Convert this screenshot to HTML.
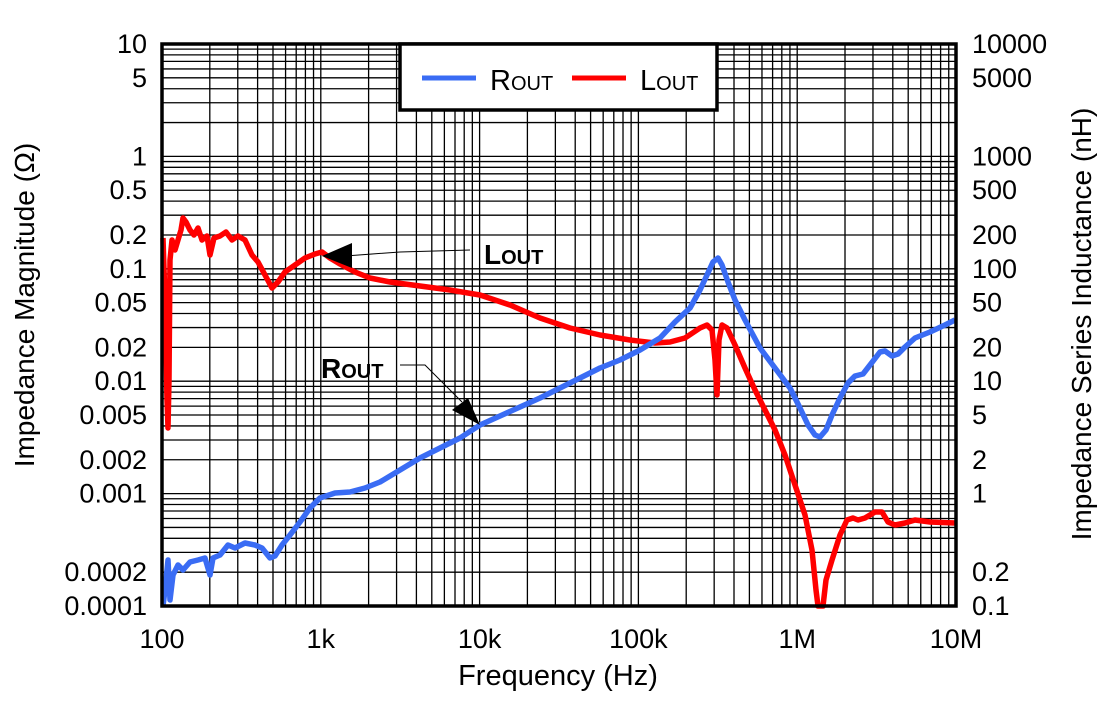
<!DOCTYPE html>
<html><head><meta charset="utf-8"><style>
body{margin:0;background:#fff;}
svg text{font-family:"Liberation Sans",sans-serif;}
</style></head><body>
<svg id="s" width="1108" height="701" xmlns="http://www.w3.org/2000/svg">
<g id="grid" stroke="#000" stroke-width="1.3"></g>
<polyline id="red" fill="none" stroke="#ff0000" stroke-width="5.5" stroke-linejoin="round" points="163,238 165,300 167,400 168,428 169,380 170,260 172,240 175,250 178,240 181,230 183,218 186,222 190,230 194,235 198,228 202,240 207,236 210,255 214,238 220,236 226,232 232,240 238,236 245,240 252,255 258,262 265,275 272,288 278,282 285,272 295,265 305,258 315,254 322,252 330,258 340,264 355,272 370,278 390,282 420,286 450,290 480,295 510,305 540,318 570,328 600,335 630,340 655,343 670,342 685,338 700,328 707,325 712,330 715,360 717,395 719,340 722,325 727,328 735,345 745,368 755,390 765,410 775,430 785,455 795,485 805,515 812,550 816,590 818,606 823,606 826,580 832,560 840,535 847,520 853,518 858,520 865,518 875,512 882,512 888,522 895,525 905,523 915,520 930,522 955,523"/>
<polyline id="blue" fill="none" stroke="#3a6cf4" stroke-width="5.5" stroke-linejoin="round" points="163,606 165,590 168,560 170,600 173,575 178,565 183,570 190,562 198,560 205,558 210,575 213,558 220,555 228,545 235,548 245,543 255,545 262,548 270,558 275,556 282,545 290,535 300,522 310,508 320,498 335,493 350,492 365,488 380,482 400,470 420,458 440,448 460,438 480,425 500,416 520,407 540,398 560,388 580,378 600,368 620,360 640,350 660,338 675,322 690,308 700,290 707,275 713,262 718,258 722,265 728,282 735,300 745,320 760,348 775,368 790,388 800,408 808,425 815,435 820,437 826,430 832,415 840,398 848,383 855,376 863,374 870,365 880,352 885,351 892,356 898,354 905,347 915,338 930,332 945,325 955,320"/>
<rect x="162" y="44" width="794" height="562" fill="none" stroke="#000" stroke-width="3.5"/>
<rect x="400" y="44" width="317" height="66" fill="#fff" stroke="#000" stroke-width="3.5"/>
<line x1="422" y1="78" x2="476" y2="78" stroke="#3a6cf4" stroke-width="5"/>
<text x="490" y="90" font-size="29">R<tspan font-size="20">OUT</tspan></text>
<line x1="572" y1="78" x2="626" y2="78" stroke="#ff0000" stroke-width="5"/>
<text x="640" y="90" font-size="29">L<tspan font-size="20">OUT</tspan></text>
<polyline points="470,250 400,252 345,256" fill="none" stroke="#000" stroke-width="1"/>
<polygon points="322,256 352,243 352,268" fill="#000"/>
<text x="484" y="264" font-size="28" font-weight="bold">L<tspan font-size="20">OUT</tspan></text>
<polyline points="400,365 425,365 462,402" fill="none" stroke="#000" stroke-width="1"/>
<polygon points="480,425 452,410 468,398" fill="#000"/>
<text x="321" y="378" font-size="28" font-weight="bold">R<tspan font-size="20">OUT</tspan></text>
<g id="labels" font-size="27"></g>
<text x="558" y="685" font-size="29" text-anchor="middle">Frequency (Hz)</text>
<text transform="translate(34,305) rotate(-90)" font-size="28" text-anchor="middle">Impedance Magnitude (Ω)</text>
<text transform="translate(1091,324) rotate(-90)" font-size="28" text-anchor="middle">Impedance Series Inductance (nH)</text>
</svg>
<script>
var ns="http://www.w3.org/2000/svg";
var g=document.getElementById('grid'),L=document.getElementById('labels');
function X(l){return 162+(l-2)*158.8;}
function Y(l){return 44+(1-l)*112.4;}
for(var d=2;d<7;d++)for(var k=1;k<10;k++){var x=X(d+Math.log10(k));var e=document.createElementNS(ns,'line');e.setAttribute('x1',x);e.setAttribute('x2',x);e.setAttribute('y1',44);e.setAttribute('y2',606);g.appendChild(e);}
for(var d=-4;d<1;d++)for(var k=1;k<10;k++){var y=Y(d+Math.log10(k));var e=document.createElementNS(ns,'line');e.setAttribute('y1',y);e.setAttribute('y2',y);e.setAttribute('x1',162);e.setAttribute('x2',956);g.appendChild(e);}
function T(x,y,s,a){var t=document.createElementNS(ns,'text');t.setAttribute('x',x);t.setAttribute('y',y);t.setAttribute('text-anchor',a);t.textContent=s;L.appendChild(t);}
var lv=[[10,'10','10000'],[5,'5','5000'],[1,'1','1000'],[0.5,'0.5','500'],[0.2,'0.2','200'],[0.1,'0.1','100'],[0.05,'0.05','50'],[0.02,'0.02','20'],[0.01,'0.01','10'],[0.005,'0.005','5'],[0.002,'0.002','2'],[0.001,'0.001','1'],[0.0002,'0.0002','0.2'],[0.0001,'0.0001','0.1']];
lv.forEach(function(v){var y=Y(Math.log10(v[0]))+9;T(147,y,v[1],'end');T(972,y,v[2],'start');});
['100','1k','10k','100k','1M','10M'].forEach(function(s,i){T(X(2+i),648,s,'middle');});
</script>
</body></html>
